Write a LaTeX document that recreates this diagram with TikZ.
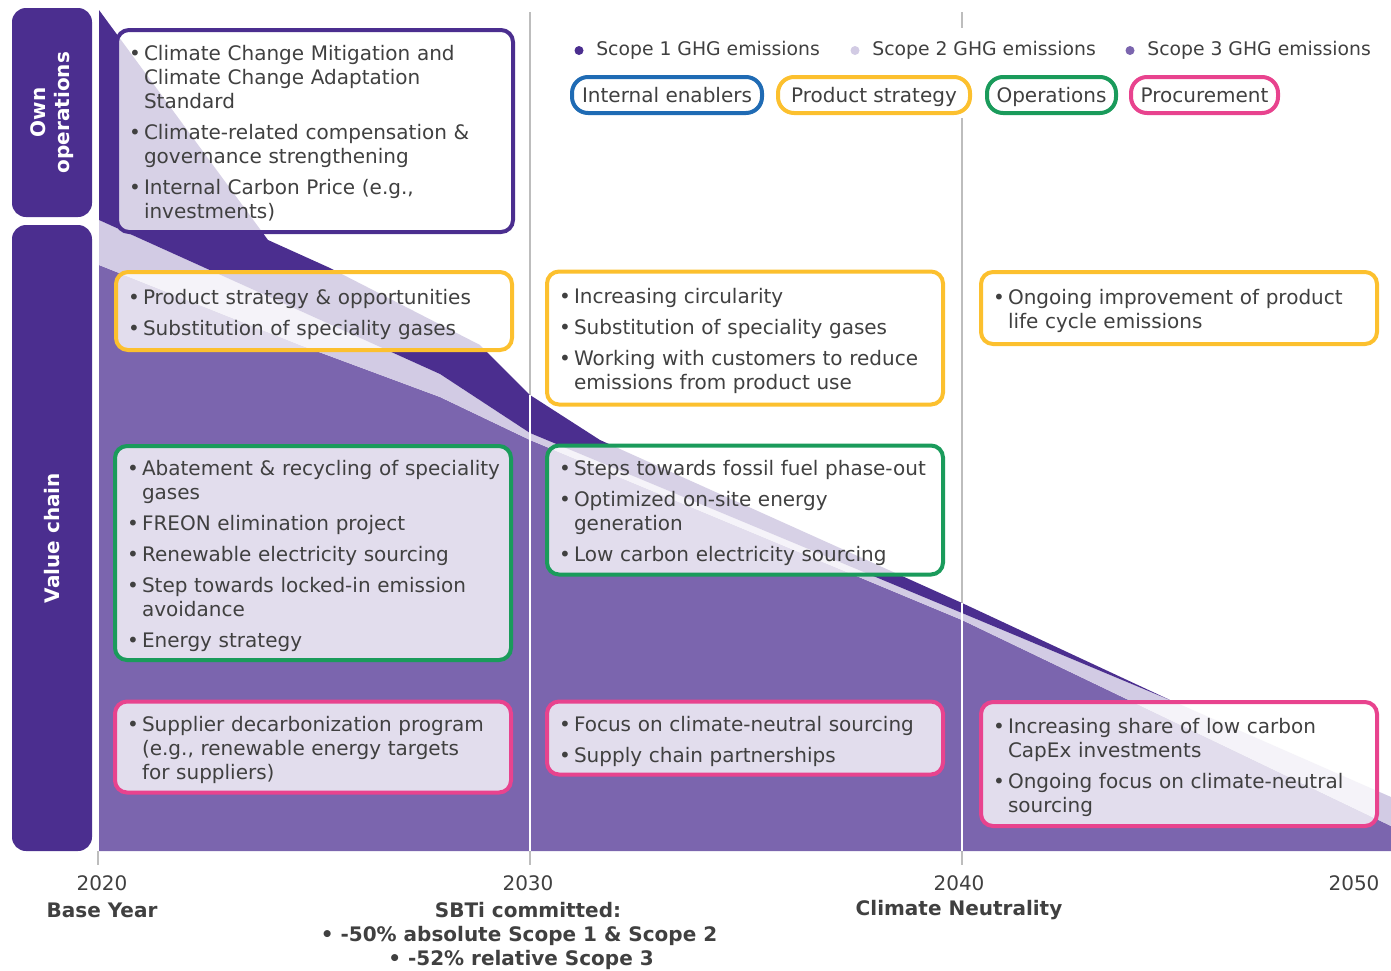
\documentclass[tikz,border=0pt]{standalone}
\usepackage{fontspec}
\setmainfont{DejaVu Sans}
\usepackage{array}
\usetikzlibrary{positioning}
\definecolor{scopeone}{HTML}{4B2E8F}
\definecolor{scopetwo}{HTML}{D2CBE4}
\definecolor{scopethree}{HTML}{7B65AE}
\definecolor{enabler}{HTML}{1F6BB4}
\definecolor{product}{HTML}{FCC02E}
\definecolor{operation}{HTML}{1A9B5B}
\definecolor{procure}{HTML}{E8438E}
\definecolor{txtgray}{HTML}{404040}
\definecolor{gridgray}{HTML}{BDBDBD}
\newcommand{\bl}{\textbullet &}
\newenvironment{acts}{\noindent\begin{tabular}{@{}p{7.5pt}@{}l@{}}}{\end{tabular}\par\vspace*{-4pt}}

\begin{document}
\begin{tikzpicture}[x=.5pt, y=-.5pt, font=\fontsize{10}{12}\selectfont,
  act/.style={draw, line width=2pt, rounded corners=6pt, fill=white,
    fill opacity=.78, text opacity=1, text=txtgray, text width=186pt,
    inner xsep=6pt, inner ysep=0pt},
  lane/.style={fill=scopeone, rounded corners=7pt, rotate=90, text=white,
    font=\fontsize{10}{12}\selectfont\bfseries, align=center},
  key/.style={draw, line width=2pt, rounded corners=8pt, fill=white,
    text=txtgray, minimum height=18pt, inner sep=0pt,
    text height=9.4pt, text depth=2.2pt},
  dot/.style={circle, inner sep=0pt, minimum size=4.5pt},
  legtext/.style={text=txtgray, inner sep=0pt, font=\fontsize{9.4}{11}\selectfont},
  year/.style={text=txtgray, inner sep=0pt},
  mile/.style={text=txtgray, inner sep=0pt, font=\fontsize{10}{12}\selectfont\bfseries},
  gridline/.style={draw=gridgray, line width=1pt}]
\useasboundingbox (0,0) rectangle (1391,970);

% time lines
\draw[gridline] (530,12) -- (530,865);
\draw[gridline] (962,12) -- (962,28);
\draw[gridline] (962,118) -- (962,865);
\draw[gridline] (98,851) -- (98,865);

% emission areas
\fill[scopethree] (99,265) -- (300,345) -- (440,397) -- (530,440) -- (962,620)
  -- (1391,826) -- (1391,851) -- (99,851) -- cycle;
\fill[scopetwo] (99,220) -- (440,374) -- (530,433) -- (962,613) -- (1170,700)
  -- (1391,797) -- (1391,826) -- (962,620) -- (530,440) -- (440,397)
  -- (300,345) -- (99,265) -- cycle;
\fill[scopeone] (99,10) -- (268,240) -- (330,268) -- (480,345) -- (530,395)
  -- (600,440) -- (962,603) -- (1170,700) -- (962,613) -- (530,433)
  -- (440,374) -- (99,220) -- cycle;
\draw[white, line width=1pt] (530,851) -- (530,395);
\draw[white, line width=1pt] (962,851) -- (962,603);

% rows
\node[lane, minimum width=104.5pt, minimum height=40pt] (own) at (52,112.5) {Own\\operations};
\node[lane, minimum width=313pt, minimum height=40pt] (chain) at (52,538) {Value chain};

% legend
\node[dot, fill=scopeone] (d1) at (579,50.5) {};
\node[legtext, right=6pt of d1] (l1) {Scope 1 GHG emissions};
\node[dot, fill=scopetwo] (d2) at (855,50.5) {};
\node[legtext, right=6pt of d2] (l2) {Scope 2 GHG emissions};
\node[dot, fill=scopethree] (d3) at (1130,50.5) {};
\node[legtext, right=6pt of d3] (l3) {Scope 3 GHG emissions};
\node[key, draw=enabler, minimum width=95pt] (kEnab) at (667,95) {Internal enablers};
\node[key, draw=product, minimum width=96pt] (kProd) at (874,95) {Product strategy};
\node[key, draw=operation, minimum width=64.5pt] (kOps) at (1051.5,95) {Operations};
\node[key, draw=procure, minimum width=73.5pt] (kProc) at (1204.5,95) {Procurement};

% measures
\node[act, draw=scopeone, minimum height=101pt] (enab1) at (315,131) {\begin{acts}
\bl Climate Change Mitigation and\\
 & Climate Change Adaptation\\
 & Standard\\[3.5pt]
\bl Climate-related compensation \&\\
 & governance strengthening\\[3.5pt]
\bl Internal Carbon Price (e.g.,\\
 & investments)
\end{acts}};
\node[act, draw=product, minimum height=39pt] (prod1) at (314,311) {\begin{acts}
\bl Product strategy \& opportunities\\[3.5pt]
\bl Substitution of speciality gases
\end{acts}};
\node[act, draw=product, minimum height=66.5pt] (prod2) at (745,338) {\begin{acts}
\bl Increasing circularity\\[3.5pt]
\bl Substitution of speciality gases\\[3.5pt]
\bl Working with customers to reduce\\
 & emissions from product use
\end{acts}};
\node[act, draw=product, minimum height=36pt] (prod3) at (1179,308) {\begin{acts}
\bl Ongoing improvement of product\\
 & life cycle emissions
\end{acts}};
\node[act, draw=operation, minimum height=107pt] (ops1) at (313,553) {\begin{acts}
\bl Abatement \& recycling of speciality\\
 & gases\\[3.5pt]
\bl FREON elimination project\\[3.5pt]
\bl Renewable electricity sourcing\\[3.5pt]
\bl Step towards locked-in emission\\
 & avoidance\\[3.5pt]
\bl Energy strategy
\end{acts}};
\node[act, draw=operation, minimum height=64.5pt] (ops2) at (745,510) {\begin{acts}
\bl Steps towards fossil fuel phase-out\\[3.5pt]
\bl Optimized on-site energy\\
 & generation\\[3.5pt]
\bl Low carbon electricity sourcing
\end{acts}};
\node[act, draw=procure, minimum height=45.5pt] (proc1) at (313,747) {\begin{acts}
\bl Supplier decarbonization program\\
 & (e.g., renewable energy targets\\
 & for suppliers)
\end{acts}};
\node[act, draw=procure, minimum height=36.5pt] (proc2) at (745,738) {\begin{acts}
\bl Focus on climate-neutral sourcing\\[3.5pt]
\bl Supply chain partnerships
\end{acts}};
\node[act, draw=procure, minimum height=62pt] (proc3) at (1179,764) {\begin{acts}
\bl Increasing share of low carbon\\
 & CapEx investments\\[3.5pt]
\bl Ongoing focus on climate-neutral\\
 & sourcing
\end{acts}};

% years
\node[year] (y2020) at (102,883) {2020};
\node[mile] (base) at (102,910) {Base Year};
\node[year] (y2030) at (528,883) {2030};
\node[mile] (sbti) at (528,910) {SBTi committed:};
\node[mile] (sbtia) at (519,936) {\textbullet\ -50\% absolute Scope 1 \& Scope 2};
\node[mile] (sbtib) at (521,960) {\textbullet\ -52\% relative Scope 3};
\node[year] (y2040) at (959,883) {2040};
\node[mile] (neutral) at (959,910) {Climate Neutrality};
\node[year] (y2050) at (1354,883) {2050};
\end{tikzpicture}
\end{document}
